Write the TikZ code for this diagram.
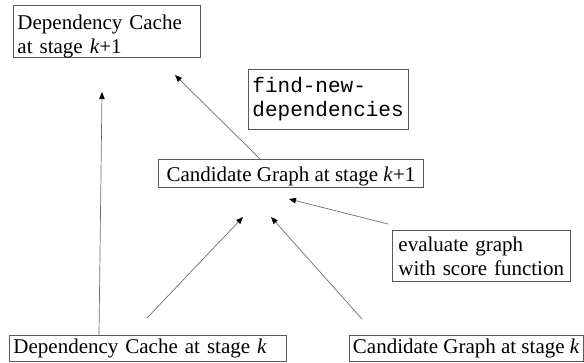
\documentclass[tikz,border=0pt]{standalone}
\usepackage{fontspec}
\setmainfont{Liberation Serif}
\setmonofont{Liberation Mono}
\usetikzlibrary{arrows.meta,calc}
\definecolor{boxgray}{HTML}{5A5A5A}
\definecolor{linegray}{HTML}{6E6E6E}
\begin{document}
\begin{tikzpicture}[x=1pt,y=-1pt,
  box/.style={draw=boxgray,line width=0.9pt,inner ysep=0pt,anchor=north west,
    font=\fontsize{21}{24}\selectfont,align=left},
  onebox/.style={draw=boxgray,line width=0.9pt,inner ysep=0pt,anchor=north west,
    font=\fontsize{21}{24}\selectfont},
  conn/.style={draw=linegray,line width=0.7pt,
    -{Triangle[length=7pt,width=5.5pt,fill=black,color=black]}}]
\useasboundingbox (0,0) rectangle (584,362);
\fill[white] (0,0) rectangle (584,362);
% boxes
\node[box,text width=179pt,inner xsep=4pt,text height=24pt,text depth=28pt] (A) at (13,5)
  {Dependency Cache\\at stage \textit{k}+1};
\node[box,font=\fontsize{21}{24}\ttfamily,text width=152pt,inner xsep=4pt,text height=23pt,text depth=37pt] (B) at (248,69)
  {find-new-\\dependencies};
\node[onebox,minimum width=265pt,inner xsep=0pt,text height=22pt,text depth=5.5pt] (C) at (158,159)
  {Candidate Graph at stage \textit{k}+1};
\node[box,text width=166pt,inner xsep=6pt,text height=21pt,text depth=30pt] (D) at (392,230)
  {evaluate graph\\with score function};
\node[box,text width=269pt,inner xsep=4pt,text height=18pt,text depth=8pt] (E) at (9,335)
  {Dependency Cache at stage \textit{k}};
\node[onebox,inner xsep=3.5pt,text height=18pt,text depth=8pt] (F) at (349,335)
  {Candidate Graph at stage \textit{k}};
% free ends
\coordinate (vtip) at (102,92);
\coordinate (d1tail) at (147,318);
\coordinate (d1tip) at (243,217);
\coordinate (d2tail) at (362,319);
\coordinate (d2tip) at (271,217);
\coordinate (etail) at (388,224);
\coordinate (etip) at (289,199);
\coordinate (ctip) at (175,75);
% connectors
\draw[conn] ($(E.north west)+(90,0)$) -- (vtip);
\draw[conn] (d1tail) -- (d1tip);
\draw[conn] (d2tail) -- (d2tip);
\draw[conn] (etail) -- (etip);
\draw[conn] ($(C.north west)+(102,0)$) -- (ctip);
\end{tikzpicture}
\end{document}
